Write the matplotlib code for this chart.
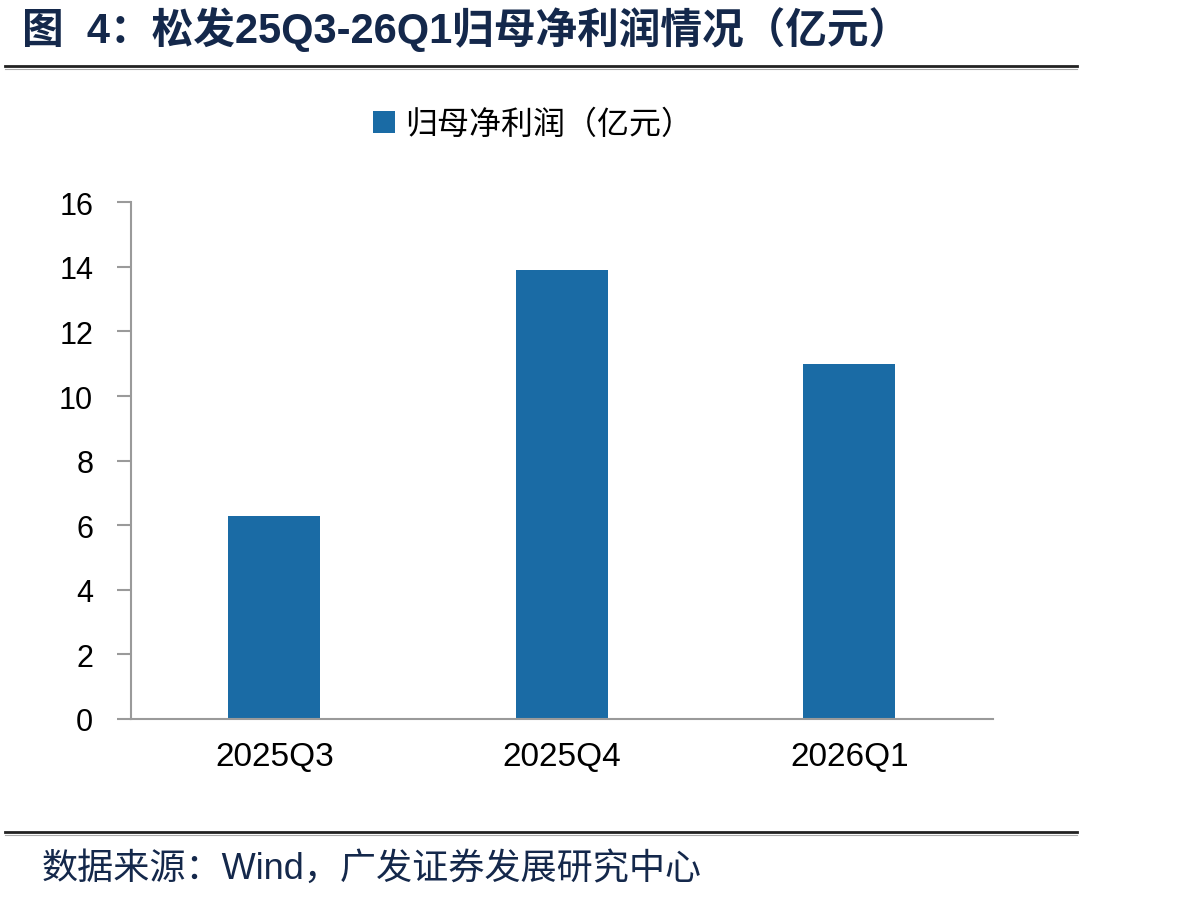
import matplotlib
matplotlib.use("Agg")
import matplotlib.pyplot as plt
from matplotlib.lines import Line2D
from matplotlib.patches import Patch

plt.rcParams['font.family'] = ['Liberation Sans', 'Noto Sans CJK SC', 'DejaVu Sans']

categories = ["2025Q3", "2025Q4", "2026Q1"]
values = [6.3, 13.9, 11.0]
series_name = "归母净利润（亿元）"
yticks = [0, 2, 4, 6, 8, 10, 12, 14, 16]
title = "图  4：松发25Q3-26Q1归母净利润情况（亿元）"
source = "数据来源：Wind，广发证券发展研究中心"

W, H = 1189, 903
fig = plt.figure(figsize=(W / 100, H / 100), dpi=100)
ax = fig.add_axes([130.7 / W, 1 - 720 / H, (993 - 130.7) / W, (720 - 203.3) / H])

bar_color = "#1a6ba5"
x = range(len(categories))
ax.bar(x, values, width=0.32, color=bar_color, zorder=2)
ax.set_xlim(-0.5, 2.5)
ax.set_ylim(0, 16)
ax.set_yticks(yticks)
ax.set_xticks(list(x))
ax.set_xticklabels(categories)
for s in ["top", "right"]:
    ax.spines[s].set_visible(False)
for s in ["left", "bottom"]:
    ax.spines[s].set_color("#9a9a9a")
    ax.spines[s].set_linewidth(1.5)
ax.tick_params(axis="y", direction="out", length=10, width=1.5, color="#9a9a9a",
               labelsize=22, pad=17)
ax.tick_params(axis="x", length=0, labelsize=24, pad=16)

# legend
fig.legend(handles=[Patch(facecolor=bar_color, edgecolor="none")], labels=[series_name],
           loc="center", bbox_to_anchor=(533 / W, 1 - 125 / H), frameon=False,
           handlelength=0.7, handleheight=0.7, handletextpad=0.3,
           prop={'family': ['Noto Sans CJK SC'], 'size': 23})

# title
fig.text(22 / W, 1 - 30 / H, title, fontsize=30, fontweight="bold", color="#14284b",
         ha="left", va="center", family=['Liberation Sans', 'Noto Sans CJK SC'])

# separator lines
for yy in (67, 833):
    fig.add_artist(Line2D([5 / W, 1077 / W], [1 - yy / H, 1 - yy / H], color="#222222",
                          linewidth=2.0, transform=fig.transFigure))
    fig.add_artist(Line2D([5 / W, 1077 / W], [1 - (yy + 2.5) / H, 1 - (yy + 2.5) / H],
                          color="#aaaaaa", linewidth=0.8, transform=fig.transFigure))

# source
fig.text(42 / W, 1 - 869 / H, source, fontsize=26, color="#14284b", ha="left", va="center",
         family=['Liberation Sans', 'Noto Sans CJK SC'])

fig.savefig("out.png", dpi=100)
